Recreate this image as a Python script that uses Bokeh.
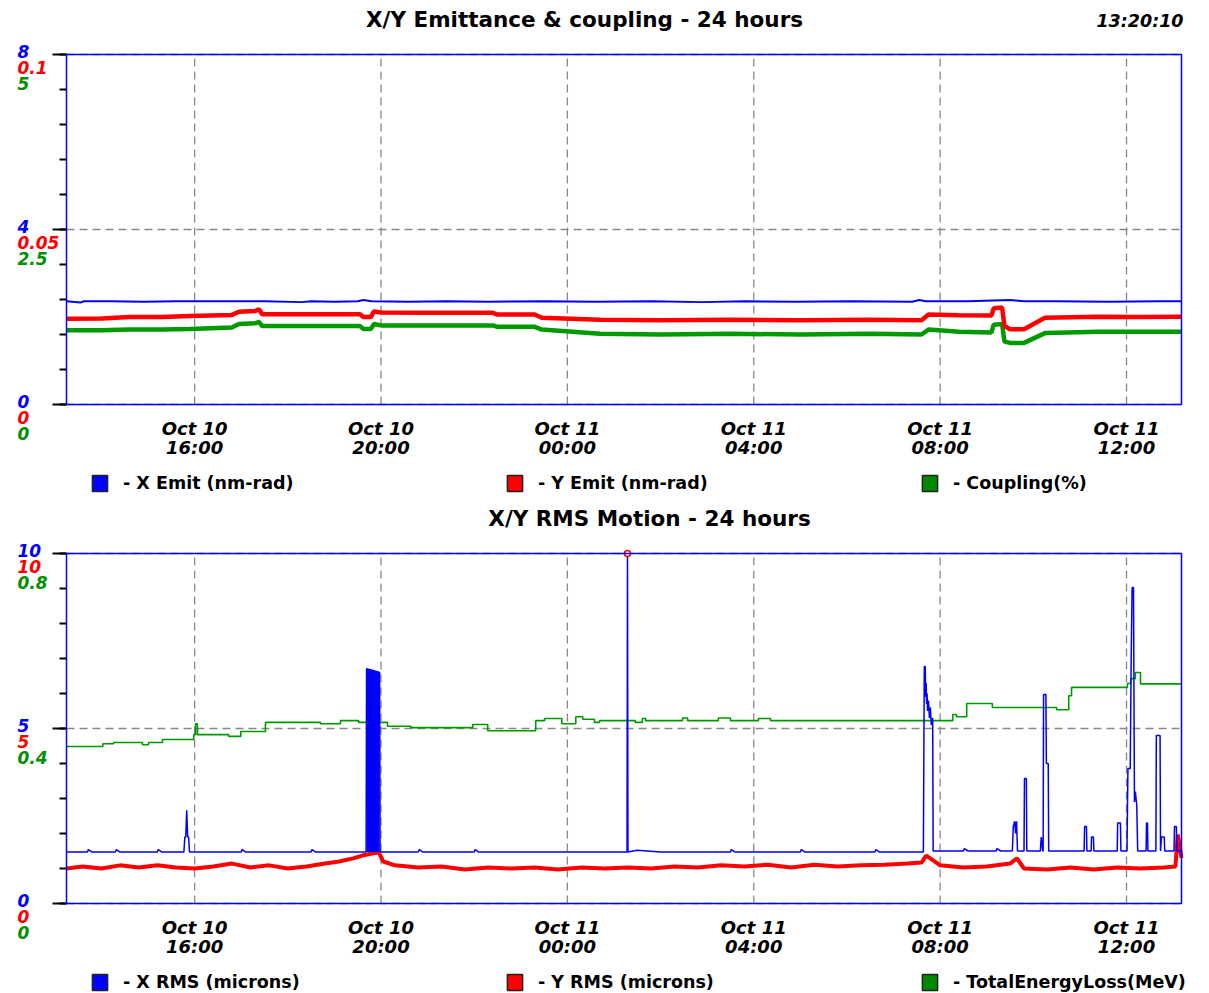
import datetime as dt
import numpy as np
from bokeh.plotting import figure
from bokeh.layouts import column
from bokeh.models import (Range1d, FixedTicker, DatetimeTickFormatter, Label, Legend,
                          LegendItem, LinearAxis, DatetimeAxis, BoxAnnotation)
from bokeh.embed import file_html
from bokeh.resources import INLINE

# ---------------- data ----------------
BASE = dt.datetime(2023, 10, 10)          # hours below are counted from Oct 10 00:00
X_START_H, X_END_H = 13.25, 37.18
TIME_TICKS_H = [16, 20, 24, 28, 32, 36]
timestamp = "13:20:10"

top_title = "X/Y Emittance & coupling - 24 hours"
top_legend = ["- X Emit (nm-rad)", "- Y Emit (nm-rad)", "- Coupling(%)"]
top_blue_ticks = ["0", "4", "8"]
top_red_ticks = ["0", "0.05", "0.1"]
top_green_ticks = ["0", "2.5", "5"]

x_emit_t = [13.25, 13.55, 13.62, 14.2, 14.9, 15.6, 16.5, 17.5, 18.3, 18.5, 19.0, 19.5,
            19.62, 19.8, 20.6, 21.4, 22.3, 23.5, 24.6, 25.8, 26.9, 27.8, 28.9, 30.1,
            31.4, 31.55, 31.7, 32.6, 33.5, 33.8, 34.5, 35.6, 36.7, 37.18]
x_emit_v = [2.36, 2.33, 2.36, 2.36, 2.35, 2.36, 2.36, 2.36, 2.34, 2.36, 2.35, 2.36,
            2.39, 2.36, 2.35, 2.36, 2.35, 2.36, 2.35, 2.36, 2.34, 2.36, 2.35, 2.36,
            2.35, 2.39, 2.36, 2.36, 2.39, 2.36, 2.36, 2.35, 2.36, 2.36]

y_emit_t = [13.25, 14.0, 14.6, 15.3, 15.9, 16.8, 16.95, 17.3, 17.38, 17.45, 18.5, 19.55,
            19.62, 19.78, 19.85, 20.0, 21.0, 22.4, 22.5, 23.3, 23.45, 24.7, 26.0, 27.5,
            29.0, 30.5, 31.6, 31.75, 32.4, 33.1, 33.15, 33.33, 33.38, 33.5, 33.8, 34.25,
            35.4, 36.3, 37.18]
y_emit_v = [0.0245, 0.0246, 0.0250, 0.0250, 0.0253, 0.0256, 0.0265, 0.0267, 0.0272, 0.0258,
            0.0258, 0.0258, 0.0250, 0.0250, 0.0266, 0.0263, 0.0262, 0.0262, 0.0257, 0.0257,
            0.0248, 0.0242, 0.0241, 0.0242, 0.0241, 0.0242, 0.0241, 0.0257, 0.0255, 0.0254,
            0.0275, 0.0277, 0.0225, 0.0215, 0.0215, 0.0248, 0.0251, 0.0250, 0.0251]
coup_v = [1.06, 1.06, 1.07, 1.07, 1.08, 1.10, 1.15, 1.16, 1.18, 1.12,
          1.12, 1.12, 1.08, 1.08, 1.15, 1.13, 1.13, 1.13, 1.11, 1.11,
          1.07, 1.01, 1.00, 1.01, 1.00, 1.01, 1.00, 1.07, 1.04, 1.03,
          1.14, 1.15, 0.90, 0.88, 0.88, 1.02, 1.04, 1.04, 1.04]

bot_title = "X/Y RMS Motion - 24 hours"
bot_legend = ["- X RMS (microns)", "- Y RMS (microns)", "- TotalEnergyLoss(MeV)"]
bot_blue_ticks = ["0", "5", "10"]
bot_red_ticks = ["0", "5", "10"]
bot_green_ticks = ["0", "0.4", "0.8"]

rms_x_t = [13.25, 13.7, 13.72, 13.8, 14.3, 14.32, 14.4, 15.2, 15.22, 15.3, 15.77, 15.79,
           15.81, 15.83, 15.85, 15.87, 15.89, 17.0, 17.02, 17.1, 18.5, 18.52, 18.6, 19.68,
           19.69, 19.83, 19.97, 19.98, 20.8, 20.82, 20.9, 22.0, 22.02, 22.1, 23.5, 25.28,
           25.29, 25.30, 25.5, 26.0, 27.5, 27.52, 27.6, 29.0, 29.02, 29.1, 30.6, 30.62,
           30.7, 31.64, 31.66, 31.68, 31.69, 31.70, 31.71, 31.72, 31.73, 31.75, 31.77, 31.79,
           31.81, 31.84, 31.85, 32.5, 32.52, 32.6, 33.2, 33.22, 33.3, 33.55, 33.57, 33.60,
           33.62, 33.64, 33.66, 33.80, 33.81, 33.85, 33.86, 34.15, 34.17, 34.20, 34.21, 34.22,
           34.27, 34.28, 34.32, 34.33, 35.09, 35.10, 35.14, 35.15, 35.24, 35.25, 35.29, 35.30,
           35.80, 35.81, 35.87, 35.88, 36.01, 36.03, 36.08, 36.10, 36.12, 36.15, 36.17, 36.19,
           36.22, 36.24, 36.42, 36.43, 36.45, 36.46, 36.63, 36.64, 36.72, 36.73, 36.75, 36.81,
           36.82, 37.02, 37.03, 37.07, 37.08, 37.18]
rms_x_v = [1.47, 1.47, 1.54, 1.47, 1.47, 1.54, 1.47, 1.47, 1.54, 1.47, 1.47, 1.9,
           1.9, 2.66, 1.9, 1.9, 1.47, 1.47, 1.54, 1.47, 1.47, 1.54, 1.47, 1.47,
           6.71, 6.66, 6.6, 1.47, 1.47, 1.54, 1.47, 1.47, 1.54, 1.47, 1.47, 1.47,
           10.0, 1.47, 1.52, 1.47, 1.47, 1.54, 1.47, 1.47, 1.54, 1.47, 1.47, 1.54,
           1.47, 1.47, 6.77, 6.77, 5.9, 6.3, 5.7, 6.0, 5.5, 5.8, 5.3, 5.6,
           5.1, 5.3, 1.5, 1.5, 1.57, 1.5, 1.5, 1.57, 1.5, 1.5, 2.2, 2.35,
           2.0, 2.35, 1.5, 1.5, 3.57, 3.57, 1.5, 1.5, 1.9, 1.5, 1.5, 5.97,
           5.97, 4.0, 4.0, 1.5, 1.5, 2.2, 2.2, 1.5, 1.5, 1.9, 1.9, 1.5,
           1.5, 2.3, 2.3, 1.5, 1.5, 3.86, 3.86, 7.0, 9.03, 9.03, 2.9, 3.2,
           2.8, 1.5, 1.5, 2.3, 2.3, 1.5, 1.5, 4.8, 4.8, 1.5, 1.9, 1.9,
           1.5, 1.5, 2.2, 2.2, 1.5, 1.5]

# dense oscillation block near 19:45 (envelope)
burst_t = [19.69, 19.83, 19.97]
burst_low = [1.47, 1.47, 1.47]
burst_high = [6.71, 6.66, 6.6]

# off-scale marker
overflow_t = [25.29]
overflow_v = [10.0]

rms_y_t = [13.25, 13.6, 14.0, 14.4, 14.8, 15.2, 15.6, 16.0, 16.4, 16.8, 17.2, 17.6, 18.0,
           18.4, 18.8, 19.1, 19.4, 19.6, 19.8, 19.95, 20.05, 20.3, 20.8, 21.3, 21.8, 22.3,
           22.8, 23.3, 23.8, 24.3, 24.8, 25.3, 25.8, 26.3, 26.8, 27.3, 27.8, 28.3, 28.8,
           29.3, 29.8, 30.3, 30.8, 31.3, 31.6, 31.7, 31.85, 32.0, 32.5, 33.0, 33.5, 33.65,
           33.8, 34.3, 34.8, 35.3, 35.8, 36.3, 36.8, 37.05, 37.10, 37.18]
rms_y_v = [1.0, 1.06, 1.0, 1.09, 1.03, 1.09, 1.03, 1.0, 1.06, 1.14, 1.03, 1.09, 1.0,
           1.06, 1.14, 1.2, 1.29, 1.37, 1.43, 1.46, 1.2, 1.09, 1.03, 1.06, 0.97, 1.03,
           1.0, 1.03, 0.97, 1.03, 1.0, 1.03, 1.0, 1.06, 1.03, 1.09, 1.06, 1.11, 1.03,
           1.11, 1.06, 1.09, 1.11, 1.14, 1.17, 1.37, 1.23, 1.09, 1.03, 1.06, 1.14, 1.29,
           1.0, 0.97, 1.03, 0.97, 1.03, 1.0, 1.03, 1.06, 1.97, 1.3]

eloss_t = [13.25, 14.03, 14.26, 14.88, 15.01, 15.31, 15.98, 16.02, 16.06, 16.73, 16.99,
           17.52, 18.70, 19.13, 19.52, 20.14, 20.64, 21.97, 22.29, 23.32, 23.51, 23.88,
           24.18, 24.33, 24.58, 24.69, 25.46, 25.61, 25.68, 26.47, 26.58, 27.24, 27.50,
           28.10, 28.36, 32.27, 32.35, 32.57, 33.12, 34.50, 34.76, 34.82, 36.02, 36.09,
           36.19, 36.30, 37.18]
eloss_v = [0.359, 0.365, 0.368, 0.363, 0.368, 0.375, 0.386, 0.411, 0.386, 0.382, 0.393,
           0.414, 0.411, 0.418, 0.414, 0.405, 0.402, 0.409, 0.395, 0.418, 0.423, 0.411,
           0.427, 0.421, 0.414, 0.418, 0.414, 0.423, 0.418, 0.424, 0.418, 0.424, 0.418,
           0.423, 0.418, 0.432, 0.427, 0.457, 0.448, 0.443, 0.475, 0.494, 0.503, 0.514,
           0.528, 0.502, 0.502]

# ---------------- layout constants (pixels) ----------------
CANVAS_W = 1190
PLOT_L, PLOT_R = 66, 1181          # plot box inside the canvas
PLOT_H = 350
HPP = (X_END_H - X_START_H) / (PLOT_R - PLOT_L)   # hours per pixel

EPOCH = dt.datetime(1970, 1, 1)
BASE_MS = (BASE - EPOCH).total_seconds() * 1000.0


def ms(h):
    return BASE_MS + h * 3600.0 * 1000.0


def T(hours):
    return [ms(h) for h in hours]


FONT = "DejaVu Sans"
BLUE, RED, GREEN = "#0000ff", "#ff0000", "#009a00"
LABEL_GREEN = "#009000"
LEG_COLORS = ["#0000ff", "#ff0000", "#008a00"]


def make_panel(canvas_h, plot_top, ymax_b, ymax_r, ymax_g, title, title_cx,
               lb, lr, lg, leg_labels, leg_y, show_time):
    plot_bottom = plot_top + PLOT_H

    def yr(ymax):
        upp = ymax / PLOT_H
        return Range1d(-(canvas_h - plot_bottom) * upp, ymax + plot_top * upp)

    xr = Range1d(ms(X_START_H - PLOT_L * HPP), ms(X_END_H + (CANVAS_W - PLOT_R) * HPP))
    p = figure(width=CANVAS_W, height=canvas_h, x_range=xr, y_range=yr(ymax_b),
               x_axis_location=None, y_axis_location=None, min_border=0,
               output_backend="svg", toolbar_location=None)
    p.extra_y_ranges = {"red": yr(ymax_r), "green": yr(ymax_g)}
    p.outline_line_color = None
    p.background_fill_color = "white"
    p.border_fill_color = "white"
    p.grid.visible = False
    upp_b = ymax_b / PLOT_H

    # dashed grid
    yt = [0, ymax_b / 2, ymax_b]
    xt = T(TIME_TICKS_H)
    p.segment(x0=xt, x1=xt, y0=[0] * len(xt), y1=[ymax_b] * len(xt),
              line_color="#888888", line_dash="8 5", line_width=1.3)
    p.segment(x0=[ms(X_START_H)] * 3, x1=[ms(X_END_H)] * 3, y0=yt, y1=yt,
              line_color="#888888", line_dash="8 5", line_width=1.3)

    # time axis
    fmt = "%b %d\n%H:%M"
    xa = DatetimeAxis(fixed_location=0, ticker=FixedTicker(ticks=xt),
                      formatter=DatetimeTickFormatter(hours=fmt, hourmin=fmt, days=fmt,
                                                      minutes=fmt))
    xa.major_tick_out = 0
    xa.major_tick_in = 0
    xa.minor_tick_out = 0
    xa.minor_tick_in = 0
    xa.axis_line_color = None
    xa.major_label_text_font = FONT
    xa.major_label_text_font_style = "bold italic"
    xa.major_label_text_font_size = "18px"
    xa.major_label_text_color = "black"
    xa.major_label_text_line_height = 0.92
    xa.major_label_standoff = 13
    p.add_layout(xa, "below")

    # left ticks (long at labelled values, short in between)
    for pos, length in ((list(np.linspace(0, ymax_b, 11)), 7), (yt, 14)):
        ya = LinearAxis(fixed_location=ms(X_START_H),
                        ticker=FixedTicker(ticks=[], minor_ticks=pos))
        ya.axis_line_color = None
        ya.major_tick_out = 0
        ya.major_tick_in = 0
        ya.minor_tick_out = length
        ya.minor_tick_in = 0
        ya.minor_tick_line_color = "black"
        ya.minor_tick_line_width = 2
        p.add_layout(ya, "left")

    # stacked coloured tick labels
    lab_x = ms(X_START_H - 49 * HPP)
    for tv, b, r, gr in zip(yt, lb, lr, lg):
        for txt, col, off in ((b, BLUE, 3.5), (r, RED, -12.7), (gr, LABEL_GREEN, -29.0)):
            p.add_layout(Label(x=lab_x, y=tv + off * upp_b, text=txt,
                               text_color=col, text_font=FONT, text_font_style="bold italic",
                               text_font_size="17px", text_align="left",
                               text_baseline="middle"))
    p.add_layout(Label(x=ms(X_START_H + title_cx * HPP), y=ymax_b + 35 * upp_b, text=title,
                       text_color="black", text_font=FONT, text_font_style="bold",
                       text_font_size="21.5px", text_align="center", text_baseline="middle"))
    if show_time:
        p.add_layout(Label(x=ms(X_END_H + 2 * HPP), y=ymax_b + 33.5 * upp_b, text=timestamp,
                           text_color="black", text_font=FONT, text_font_style="bold italic",
                           text_font_size="17.5px", text_align="right",
                           text_baseline="middle"))

    # legend (hidden proxy renderers give the coloured squares)
    items = []
    for lbl, col in zip(leg_labels, LEG_COLORS):
        r = p.quad(left=[ms(X_START_H)], right=[ms(X_START_H)], top=[0], bottom=[0],
                   fill_color=col, line_color="#222222", line_width=1.5)
        r.visible = False
        items.append(LegendItem(label=lbl, renderers=[r]))
    leg = Legend(items=items, orientation="horizontal", location=(90, leg_y),
                 glyph_width=19, glyph_height=20, label_standoff=14, label_width=382,
                 spacing=0, padding=0, margin=0, border_line_color=None,
                 background_fill_alpha=0, label_text_font=FONT,
                 label_text_font_style="bold", label_text_font_size="17.5px",
                 label_text_color="black", click_policy="none")
    p.add_layout(leg, "center")

    # plot box border
    p.add_layout(BoxAnnotation(left=ms(X_START_H), right=ms(X_END_H), bottom=0, top=ymax_b,
                               fill_color=None, fill_alpha=0, line_color=BLUE,
                               line_width=1.5, line_alpha=1.0))
    return p


p1 = make_panel(505, 54, 8, 0.1, 5, top_title, 518, top_blue_ticks, top_red_ticks,
                top_green_ticks, top_legend, 12, True)
p1.line(T(y_emit_t), coup_v, color=GREEN, line_width=4.5, y_range_name="green")
p1.line(T(y_emit_t), y_emit_v, color=RED, line_width=4.5, y_range_name="red")
p1.line(T(x_emit_t), x_emit_v, color=BLUE, line_width=2)

p2 = make_panel(488, 48, 10, 10, 0.8, bot_title, 583, bot_blue_ticks, bot_red_ticks,
                bot_green_ticks, bot_legend, 1, False)
p2.step(T(eloss_t), eloss_v, mode="after", color=GREEN, line_width=1.6, y_range_name="green")
p2.line(T(rms_y_t), rms_y_v, color=RED, line_width=4, y_range_name="red")
p2.varea(x=T(burst_t), y1=burst_low, y2=burst_high, fill_color=BLUE)
p2.line(T(rms_x_t), rms_x_v, color=BLUE, line_width=1.5)
p2.scatter(T(overflow_t), overflow_v, marker="circle", size=6, line_color=RED,
           fill_color="white", line_width=1.5)

layout = column(p1, p2)
open("out.html", "w").write(file_html(layout, INLINE))
